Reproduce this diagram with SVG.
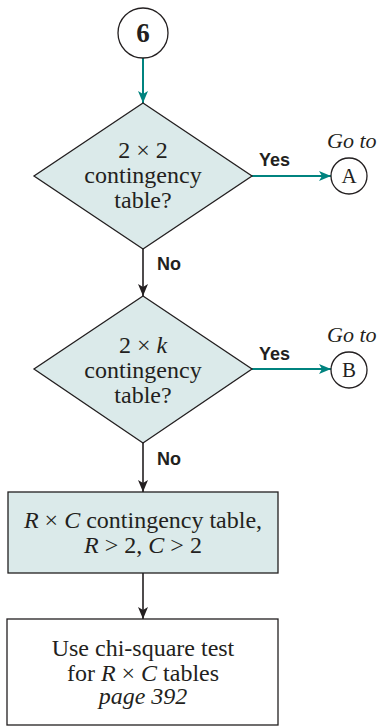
<svg xmlns="http://www.w3.org/2000/svg" width="380" height="726" viewBox="0 0 380 726">
<style>
.s{font-family:"Liberation Serif","Times New Roman",serif;font-size:24px;fill:#231f20;text-anchor:middle}
.i{font-style:italic}
.lbl{font-family:"Liberation Sans",Arial,sans-serif;font-size:18px;font-weight:bold;fill:#231f20}
.node{fill:#dbeaea;stroke:#231f20;stroke-width:1.3}
.plain{fill:#ffffff;stroke:#231f20;stroke-width:1.3}
.teal{stroke:#00837f;stroke-width:2;fill:none}
.dark{stroke:#231f20;stroke-width:1.6;fill:none}
</style>
<defs>
<marker id="ta" viewBox="0 0 12 10" refX="12" refY="5" markerWidth="12" markerHeight="10" markerUnits="userSpaceOnUse" orient="auto">
<path d="M0,0 L12,5 L0,10 L3,5 z" fill="#00837f"/>
</marker>
<marker id="da" viewBox="0 0 12 10" refX="12" refY="5" markerWidth="12" markerHeight="10" markerUnits="userSpaceOnUse" orient="auto">
<path d="M0,0 L12,5 L0,10 L3,5 z" fill="#231f20"/>
</marker>
</defs>
<g id="connectors">
<line class="teal" x1="143" y1="58" x2="143" y2="103" marker-end="url(#ta)"/>
<line class="teal" x1="252" y1="176" x2="331" y2="176" marker-end="url(#ta)"/>
<line class="teal" x1="252" y1="369" x2="331" y2="369" marker-end="url(#ta)"/>
<line class="dark" x1="143" y1="249" x2="143" y2="296" marker-end="url(#da)"/>
<line class="dark" x1="143" y1="443" x2="143" y2="492" marker-end="url(#da)"/>
<line class="dark" x1="143" y1="573" x2="143" y2="619" marker-end="url(#da)"/>
<text class="lbl" x="259" y="166">Yes</text>
<text class="lbl" x="259" y="360">Yes</text>
<text class="lbl" x="157" y="270">No</text>
<text class="lbl" x="157" y="465">No</text>
</g>
<g id="start6">
<circle cx="143" cy="33" r="25" fill="#ffffff" stroke="#231f20" stroke-width="1.3"/>
<text class="s" x="143" y="42" style="font-weight:bold;font-size:27px">6</text>
</g>
<g id="q2x2">
<polygon class="node" points="143,103 252,176 143,249 34,176"/>
<text class="s" x="143" y="158">2 × 2</text>
<text class="s" x="143" y="183">contingency</text>
<text class="s" x="143" y="208">table?</text>
</g>
<g id="goA">
<text class="s i" x="327" y="148" style="text-anchor:start;font-size:22px">Go to</text>
<circle cx="349" cy="176" r="18" fill="#ffffff" stroke="#231f20" stroke-width="1.3"/>
<text class="s" x="349" y="183" style="font-size:21px">A</text>
</g>
<g id="q2xk">
<polygon class="node" points="143,296 252,369 143,443 34,369"/>
<text class="s" x="143" y="353">2 × <tspan class="i">k</tspan></text>
<text class="s" x="143" y="378">contingency</text>
<text class="s" x="143" y="403">table?</text>
</g>
<g id="goB">
<text class="s i" x="327" y="342" style="text-anchor:start;font-size:22px">Go to</text>
<circle cx="349" cy="370" r="18" fill="#ffffff" stroke="#231f20" stroke-width="1.3"/>
<text class="s" x="349" y="377" style="font-size:21px">B</text>
</g>
<g id="rxc">
<rect class="node" x="8" y="492" width="270" height="81"/>
<text class="s" x="143" y="528"><tspan class="i">R</tspan> × <tspan class="i">C</tspan> contingency table,</text>
<text class="s" x="143" y="553"><tspan class="i">R</tspan> &gt; 2, <tspan class="i">C</tspan> &gt; 2</text>
</g>
<g id="chisq">
<rect class="plain" x="7" y="619" width="271" height="106"/>
<text class="s" x="143" y="656">Use chi-square test</text>
<text class="s" x="143" y="681">for <tspan class="i">R</tspan> × <tspan class="i">C</tspan> tables</text>
<text class="s i" x="143" y="704">page 392</text>
</g>
</svg>
